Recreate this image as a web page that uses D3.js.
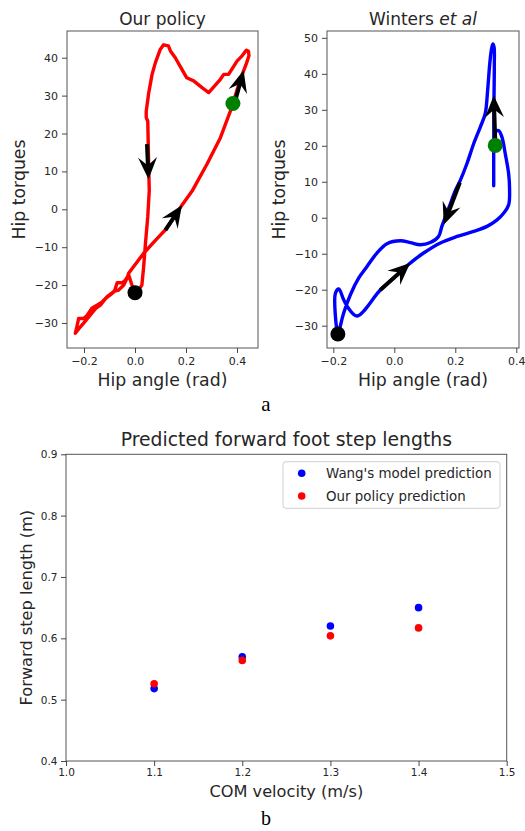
<!DOCTYPE html>
<html><head><meta charset="utf-8">
<script src="https://cdn.jsdelivr.net/npm/d3@7"></script>
<style>body{margin:0;background:#fff}svg{display:block}text{font-family:"DejaVu Sans",sans-serif}</style>
</head><body><svg id="c" width="525" height="831"></svg>
<script>
// ---------- Data: panel a, "Our policy" (hip angle rad, hip torque) ----------
const policyAngle = [0.0,-0.012,-0.025,-0.038,-0.05,-0.07,-0.08,-0.11,-0.13,-0.149,-0.169,-0.19,-0.201,-0.221,-0.228,-0.234,
  -0.214,-0.195,-0.175,-0.155,-0.136,-0.115,-0.097,-0.08,-0.064,-0.044,-0.03,-0.025,
  0.034,0.08,0.125,0.184,0.224,0.282,0.335,0.374,0.384,0.40,0.42,0.437,0.447,0.445,0.437,0.42,0.40,0.367,0.348,0.335,
  0.289,0.263,0.230,0.203,0.184,0.158,0.139,0.131,0.112,0.099,0.080,0.067,0.054,0.044,0.044,0.050,0.052,0.054,0.056,
  0.050,0.041,0.034,0.027,0.014,0.003];
const policyTorque = [-22.0,-20.0,-17.3,-18.7,-19.4,-19.4,-21.5,-23.1,-24.5,-25.3,-26.1,-28.2,-28.8,-28.8,-31.0,-32.7,
  -31.0,-29.5,-27.9,-26.2,-25.3,-23.5,-22.6,-21.6,-21.3,-20.0,-18.0,-16.9,
  -11.6,-8.2,-5.0,1.1,4.8,11.9,18.9,25.9,27.9,31.5,35.5,38.5,40.5,41.7,42.0,40.5,39.1,35.6,35.6,34.3,
  30.8,32.1,33.9,34.7,36.9,40.0,41.8,43.1,43.4,42.2,38.7,35.6,30.8,25.9,24.2,23.3,17.2,10.1,5.0,
  -2.0,-9.0,-15.1,-20.0,-21.3,-22.0];
const policyStart = [0.0, -22.0];
const policyMark = [0.384, 27.9];
// arrows: [angleFrom, torqueFrom, angleTo, torqueTo]
const policyArrows = [[0.047,17.2,0.053,7.9],[0.393,28.6,0.426,36.7],[0.119,-5.5,0.184,1.1]];

// ---------- Data: panel a, "Winters et al" ----------
const wintersAngle = [0.326,0.326,0.327,0.328,0.327,0.323,0.318,0.313,0.306,0.298,0.282,0.260,0.238,0.216,0.200,0.18,0.156,0.145,
  0.118,0.085,0.053,0.020,-0.024,-0.057,-0.090,-0.117,-0.144,-0.166,-0.182,-0.185,-0.193,-0.193,-0.182,-0.166,-0.150,-0.122,
  -0.046,0.009,0.052,0.096,0.151,0.206,0.260,0.304,0.337,0.359,0.375,0.378,0.375,0.364,0.353,0.342,0.331,0.328];
const wintersTorque = [8.9,20.1,33.5,42.8,47.5,48.3,46.5,42.8,35.4,28.9,25.2,20.5,15.0,10.3,7.5,3.0,-2.4,-5.2,
  -6.9,-7.5,-6.9,-6.4,-7.2,-9.8,-13.6,-16.8,-21.4,-26.5,-31.7,-32.3,-27.5,-21.0,-19.8,-22.8,-25.2,-27.3,
  -20.1,-15.9,-12.6,-9.8,-7.0,-5.2,-3.8,-2.4,-0.6,1.3,3.6,7.8,12.2,17.7,22.4,24.2,23.8,22.4];
const wintersStart = [-0.185, -32.3];
const wintersMark = [0.331, 20.1];
const wintersArrows = [[0.331,21.4,0.326,34.0],[0.215,9.8,0.162,-1.95],[-0.046,-20.1,0.052,-12.6]];

const policyXDomain = [-0.2667, 0.4824], policyYDomain = [-36.6, 47.05];
const wintersXDomain = [-0.2207, 0.4089], wintersYDomain = [-36.2, 51.9];
const angleTicks = [-0.2, 0.0, 0.2, 0.4];
const policyTorqueTicks = [-30,-20,-10,0,10,20,30,40];
const wintersTorqueTicks = [-30,-20,-10,0,10,20,30,40,50];

// ---------- Data: panel b ----------
const velocities = [1.1, 1.2, 1.3, 1.4];
const wangLengths = [0.518, 0.570, 0.620, 0.650];
const policyLengths = [0.526, 0.564, 0.604, 0.617];
const velocityTicks = [1.0, 1.1, 1.2, 1.3, 1.4, 1.5];
const lengthTicks = [0.4, 0.5, 0.6, 0.7, 0.8, 0.9];
const legendLabels = ["Wang's model prediction", "Our policy prediction"];

const svg = d3.select("#c");
const minus = s => s.replace("-", "\u2212");
const TXT = "#262626";

function styleAxis(g, fs) {
  g.select(".domain").remove();
  g.selectAll(".tick line").attr("stroke", "#333").attr("stroke-width", 0.9);
  g.selectAll(".tick text").attr("fill", TXT).style("font-size", fs + "px").style("font-family", "DejaVu Sans");
}

function arrow(g, x1, y1, x2, y2) {
  const dx = x2 - x1, dy = y2 - y1, len = Math.hypot(dx, dy);
  const ux = dx / len, uy = dy / len, px = -uy, py = ux;
  const L = 22, Wd = 9.5, N = 8;
  const bx = x2 - ux * L, by = y2 - uy * L;
  const nx = x2 - ux * (L - N), ny = y2 - uy * (L - N);
  g.append("line").attr("x1", x1).attr("y1", y1).attr("x2", nx).attr("y2", ny)
    .attr("stroke", "#000").attr("stroke-width", 4);
  g.append("path").attr("d", `M${x2},${y2}L${bx + px * Wd},${by + py * Wd}L${nx},${ny}L${bx - px * Wd},${by - py * Wd}Z`)
    .attr("fill", "#000");
}

function panelA(o) {
  const x = d3.scaleLinear().domain(o.xd).range([o.l, o.r]);
  const y = d3.scaleLinear().domain(o.yd).range([o.b, o.t]);
  const g = svg.append("g");
  const clipId = "clip" + o.id;
  svg.append("clipPath").attr("id", clipId).append("rect")
    .attr("x", o.l).attr("y", o.t).attr("width", o.r - o.l).attr("height", o.b - o.t);
  const pts = d3.range(o.ax.length).map(i => [o.ax[i], o.ay[i]]);
  const line = d3.line().x(d => x(d[0])).y(d => y(d[1])).curve(o.curve);
  const pg = g.append("g").attr("clip-path", `url(#${clipId})`);
  pg.append("path").attr("d", line(pts)).attr("fill", "none").attr("stroke", o.color)
    .attr("stroke-width", 3.4).attr("stroke-linejoin", "round").attr("stroke-linecap", "round");
  o.arrows.forEach(a => arrow(pg, x(a[0]), y(a[1]), x(a[2]), y(a[3])));
  pg.append("circle").attr("cx", x(o.start[0])).attr("cy", y(o.start[1])).attr("r", 7.5).attr("fill", "#000");
  pg.append("circle").attr("cx", x(o.mark[0])).attr("cy", y(o.mark[1])).attr("r", 7.5).attr("fill", "#008000");
  g.append("rect").attr("x", o.l).attr("y", o.t).attr("width", o.r - o.l).attr("height", o.b - o.t)
    .attr("fill", "none").attr("stroke", "#555").attr("stroke-width", 1);
  const ya = g.append("g").attr("transform", `translate(${o.l},0)`)
    .call(d3.axisLeft(y).tickValues(o.yt).tickSize(5).tickPadding(4).tickFormat(d => minus(d3.format("d")(d))));
  styleAxis(ya, 11);
  const xa = g.append("g").attr("transform", `translate(0,${o.b})`)
    .call(d3.axisBottom(x).tickValues(angleTicks).tickSize(5).tickPadding(4).tickFormat(d => minus(d3.format(".1f")(d))));
  styleAxis(xa, 11);
  const cx = (o.l + o.r) / 2, cy = (o.t + o.b) / 2;
  const title = g.append("text").attr("x", cx).attr("y", 24.5).attr("text-anchor", "middle")
    .attr("fill", TXT).style("font-size", "17px");
  o.title(title);
  g.append("text").attr("x", cx).attr("y", 386).attr("text-anchor", "middle").attr("fill", TXT)
    .style("font-size", "17.3px").text("Hip angle (rad)");
  g.append("text").attr("transform", `translate(${o.ylx},${cy}) rotate(-90)`).attr("text-anchor", "middle")
    .attr("fill", TXT).style("font-size", "17.3px").text("Hip torques");
}

panelA({id: "p", l: 67, r: 258, t: 31, b: 348, xd: policyXDomain, yd: policyYDomain, yt: policyTorqueTicks,
  ax: policyAngle, ay: policyTorque, start: policyStart, mark: policyMark, arrows: policyArrows,
  color: "#ff0000", curve: d3.curveLinear, ylx: 25,
  title: t => t.text("Our policy")});
panelA({id: "w", l: 327, r: 519, t: 31, b: 348, xd: wintersXDomain, yd: wintersYDomain, yt: wintersTorqueTicks,
  ax: wintersAngle, ay: wintersTorque, start: wintersStart, mark: wintersMark, arrows: wintersArrows,
  color: "#0000ff", curve: d3.curveCatmullRom.alpha(0.5), ylx: 285,
  title: t => { t.append("tspan").text("Winters "); t.append("tspan").style("font-style", "italic").text("et al"); }});

svg.append("text").attr("x", 266).attr("y", 411).attr("text-anchor", "middle")
  .style("font-family", "Liberation Serif").style("font-size", "21px").attr("fill", "#000").text("a");

// ---------- Panel b ----------
(function () {
  const l = 66, r = 506.7, t = 454.3, b = 761;
  const x = d3.scaleLinear().domain([velocityTicks[0], velocityTicks[velocityTicks.length - 1]]).range([l, r]);
  const y = d3.scaleLinear().domain([lengthTicks[0], lengthTicks[lengthTicks.length - 1]]).range([b, t]);
  const g = svg.append("g");
  g.selectAll("circle.wang").data(velocities).enter().append("circle")
    .attr("cx", d => x(d)).attr("cy", (d, i) => y(wangLengths[i])).attr("r", 3.8).attr("fill", "#0000ff");
  g.selectAll("circle.pol").data(velocities).enter().append("circle")
    .attr("cx", d => x(d)).attr("cy", (d, i) => y(policyLengths[i])).attr("r", 3.8).attr("fill", "#ff0000");
  g.append("rect").attr("x", l).attr("y", t).attr("width", r - l).attr("height", b - t)
    .attr("fill", "none").attr("stroke", "#555").attr("stroke-width", 1);
  const ya = g.append("g").attr("transform", `translate(${l},0)`)
    .call(d3.axisLeft(y).tickValues(lengthTicks).tickSize(5).tickPadding(3.5).tickFormat(d3.format(".1f")));
  styleAxis(ya, 10.5);
  const xa = g.append("g").attr("transform", `translate(0,${b})`)
    .call(d3.axisBottom(x).tickValues(velocityTicks).tickSize(5).tickPadding(3).tickFormat(d3.format(".1f")));
  styleAxis(xa, 10.5);
  g.append("text").attr("x", (l + r) / 2).attr("y", 446).attr("text-anchor", "middle").attr("fill", TXT)
    .style("font-size", "18.8px").text("Predicted forward foot step lengths");
  g.append("text").attr("x", (l + r) / 2).attr("y", 796.5).attr("text-anchor", "middle").attr("fill", TXT)
    .style("font-size", "16.2px").text("COM velocity (m/s)");
  g.append("text").attr("transform", `translate(32,${(t + b) / 2}) rotate(-90)`).attr("text-anchor", "middle")
    .attr("fill", TXT).style("font-size", "16.2px").text("Forward step length (m)");
  // legend
  const lg = g.append("g");
  lg.append("rect").attr("x", 283).attr("y", 461.7).attr("width", 217).attr("height", 46.6).attr("rx", 3)
    .attr("fill", "#fff").attr("fill-opacity", 0.8).attr("stroke", "#d0d0d0").attr("stroke-width", 1);
  const colors = ["#0000ff", "#ff0000"];
  legendLabels.forEach((lab, i) => {
    const yy = 473.3 + i * 22.7;
    lg.append("circle").attr("cx", 301.7).attr("cy", yy).attr("r", 3.8).attr("fill", colors[i]);
    lg.append("text").attr("x", 326).attr("y", yy + 5).attr("fill", TXT).style("font-size", "13.4px").text(lab);
  });
})();

svg.append("text").attr("x", 266).attr("y", 825).attr("text-anchor", "middle")
  .style("font-family", "Liberation Serif").style("font-size", "20px").attr("fill", "#000").text("b");
</script></body></html>
